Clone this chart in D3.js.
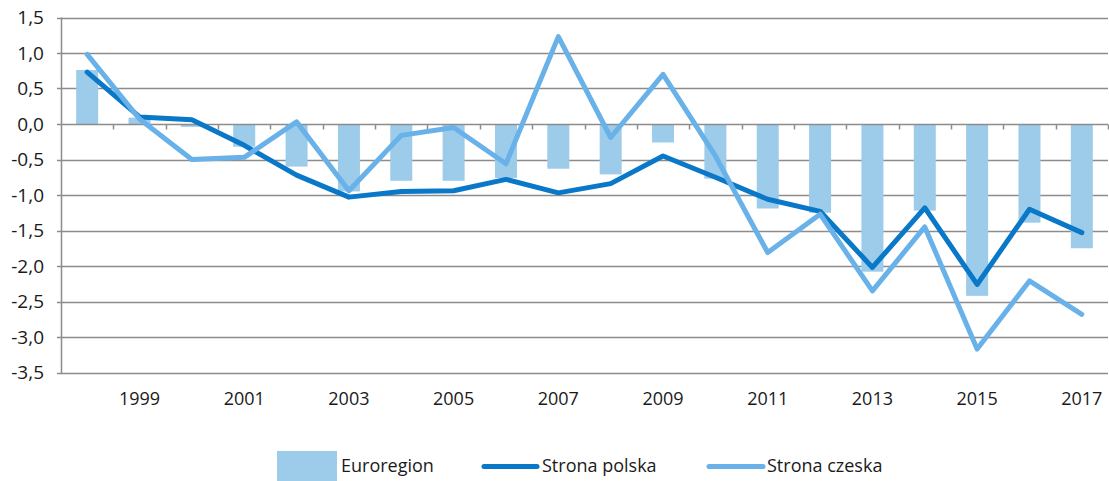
<!DOCTYPE html>
<html><head><meta charset="utf-8">
<script src="https://cdn.jsdelivr.net/npm/d3@7"></script>
<style>body{margin:0;background:#fff}svg{display:block}</style>
</head><body>
<script>
const years = [1998,1999,2000,2001,2002,2003,2004,2005,2006,2007,2008,2009,2010,2011,2012,2013,2014,2015,2016,2017];
const euroregion = [0.76,0.09,-0.04,-0.32,-0.60,-0.95,-0.80,-0.80,-0.76,-0.63,-0.71,-0.26,-0.77,-1.19,-1.25,-2.08,-1.22,-2.42,-1.39,-1.75];
const polska = [0.73,0.10,0.06,-0.30,-0.72,-1.03,-0.95,-0.94,-0.78,-0.97,-0.84,-0.45,-0.75,-1.06,-1.23,-2.02,-1.18,-2.26,-1.20,-1.53];
const czeska = [0.98,0.07,-0.50,-0.47,0.03,-0.94,-0.16,-0.05,-0.56,1.23,-0.19,0.70,-0.45,-1.81,-1.27,-2.35,-1.45,-3.17,-2.21,-2.68];
const yTicks = [1.5,1.0,0.5,0.0,-0.5,-1.0,-1.5,-2.0,-2.5,-3.0,-3.5];
const seriesNames = ["Euroregion","Strona polska","Strona czeska"];
const colors = {bar:"#9dcbea", polska:"#0a78c8", czeska:"#68b1e9", grid:"#8c8c8c", text:"#1a1a1a"};

const W=1109,H=481;
const svg=d3.select("body").append("svg").attr("width",W).attr("height",H);
const x=d3.scaleBand().domain(years).range([61,1108]);
const y=d3.scaleLinear().domain([-3.5,1.5]).range([372.5,17.5]);
const fmt=d=>d3.format(".1f")(d).replace(".",",").replace("−","-");
const font="'Open Sans', sans-serif";

// gridlines
svg.append("g").selectAll("line").data(yTicks.filter(d=>d!==0)).join("line")
  .attr("x1",57).attr("x2",1108).attr("y1",d=>Math.round(y(d))+0.5).attr("y2",d=>Math.round(y(d))+0.5)
  .attr("stroke",colors.grid).attr("stroke-width",1.5);
// y labels
svg.append("g").selectAll("text").data(yTicks).join("text")
  .attr("x",44).attr("y",d=>y(d)).attr("dy","0.35em").attr("text-anchor","end")
  .attr("font-family",font).attr("font-size",19).attr("fill",colors.text).text(fmt);

// bars
const bw=22;
svg.append("g").selectAll("rect").data(years).join("rect")
  .attr("x",(d)=>x(d)+x.bandwidth()/2-bw/2).attr("width",bw)
  .attr("y",(d,i)=>y(Math.max(0,euroregion[i])))
  .attr("height",(d,i)=>Math.abs(y(euroregion[i])-y(0)))
  .attr("fill",colors.bar);

// y axis line
svg.append("line").attr("x1",61.5).attr("x2",61.5).attr("y1",y(1.5)).attr("y2",y(-3.5)+0.5)
  .attr("stroke",colors.grid).attr("stroke-width",1.5);
// x axis at zero
const y0=Math.round(y(0))+0.5;
svg.append("line").attr("x1",57).attr("x2",1108).attr("y1",y0).attr("y2",y0)
  .attr("stroke",colors.grid).attr("stroke-width",1.5);
const bounds=years.map(d=>x(d)).concat([x.range()[1]]).slice(1);
svg.append("g").selectAll("line").data(bounds).join("line")
  .attr("x1",d=>Math.round(d)+0.5).attr("x2",d=>Math.round(d)+0.5).attr("y1",y0).attr("y2",y0+5)
  .attr("stroke",colors.grid).attr("stroke-width",1.5);

// x labels
svg.append("g").selectAll("text").data(years.filter(d=>d%2===1)).join("text")
  .attr("x",d=>x(d)+x.bandwidth()/2).attr("y",399).attr("dy","0.35em").attr("text-anchor","middle")
  .attr("font-family",font).attr("font-size",18).attr("fill",colors.text).text(d=>d);

// lines
const line=d3.line().x((d,i)=>x(years[i])+x.bandwidth()/2).y(d=>y(d));
svg.append("path").datum(polska).attr("d",line).attr("fill","none")
  .attr("stroke",colors.polska).attr("stroke-width",5).attr("stroke-linejoin","round").attr("stroke-linecap","round");
svg.append("path").datum(czeska).attr("d",line).attr("fill","none")
  .attr("stroke",colors.czeska).attr("stroke-width",5).attr("stroke-linejoin","round").attr("stroke-linecap","round");

// legend
const lg=svg.append("g").attr("font-family",font).attr("font-size",18).attr("fill",colors.text);
lg.append("rect").attr("x",277).attr("y",451).attr("width",60).attr("height",30).attr("fill",colors.bar);
lg.append("text").attr("x",341).attr("y",466).attr("dy","0.35em").text(seriesNames[0]);
lg.append("line").attr("x1",484).attr("x2",537).attr("y1",466.5).attr("y2",466.5).attr("stroke",colors.polska).attr("stroke-width",5).attr("stroke-linecap","round");
lg.append("text").attr("x",542).attr("y",466).attr("dy","0.35em").text(seriesNames[1]);
lg.append("line").attr("x1",709).attr("x2",763).attr("y1",466.5).attr("y2",466.5).attr("stroke",colors.czeska).attr("stroke-width",5).attr("stroke-linecap","round");
lg.append("text").attr("x",767).attr("y",466).attr("dy","0.35em").text(seriesNames[2]);
</script>
</body></html>
